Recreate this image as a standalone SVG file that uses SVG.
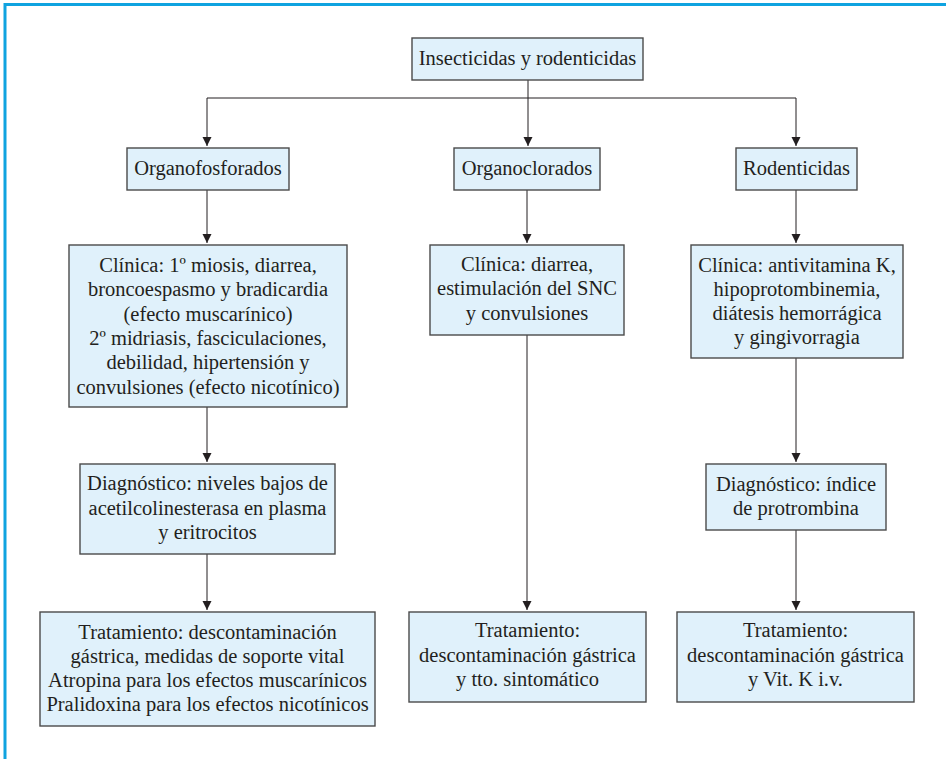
<svg xmlns="http://www.w3.org/2000/svg" width="946" height="759" viewBox="0 0 946 759">
<style>
.box{fill:#e0f1fb;stroke:#4a4a4a;stroke-width:1.4}
.t{font-family:"Liberation Serif","Times New Roman",serif;font-size:20.5px;fill:#231f20;text-anchor:middle}
.c{stroke:#231f20;stroke-width:1;fill:none}
.frame{stroke:#0fa3e0;stroke-width:3;fill:none}
</style>
<defs>
<marker id="ah" viewBox="0 0 10 10" refX="10" refY="5" markerWidth="9" markerHeight="10" markerUnits="userSpaceOnUse" orient="auto">
<path d="M0,0 L10,5 L0,10 Z" fill="#231f20"/>
</marker>
</defs>
<rect width="946" height="759" fill="#ffffff"/>
<path class="frame" d="M5,759 V4.5 H946"/>

<g id="connectors">
<line class="c" x1="528" y1="80" x2="528" y2="98"/>
<line class="c" x1="207" y1="98" x2="796" y2="98"/>
<line class="c" x1="207" y1="98" x2="207" y2="146" marker-end="url(#ah)"/>
<line class="c" x1="528" y1="98" x2="528" y2="146" marker-end="url(#ah)"/>
<line class="c" x1="796" y1="98" x2="796" y2="146" marker-end="url(#ah)"/>
<line class="c" x1="207" y1="190" x2="207" y2="243" marker-end="url(#ah)"/>
<line class="c" x1="527" y1="190" x2="527" y2="243" marker-end="url(#ah)"/>
<line class="c" x1="796" y1="190" x2="796" y2="243" marker-end="url(#ah)"/>
<line class="c" x1="207" y1="407" x2="207" y2="462" marker-end="url(#ah)"/>
<line class="c" x1="796" y1="358" x2="796" y2="462" marker-end="url(#ah)"/>
<line class="c" x1="207" y1="554" x2="207" y2="610" marker-end="url(#ah)"/>
<line class="c" x1="527" y1="335" x2="527" y2="610" marker-end="url(#ah)"/>
<line class="c" x1="796" y1="530" x2="796" y2="610" marker-end="url(#ah)"/>
</g>

<g id="root">
<rect class="box" x="412" y="38" width="231" height="42"/>
<text class="t" x="527.5" y="65">Insecticidas y rodenticidas</text>
</g>

<g id="organofosforados">
<rect class="box" x="127" y="148" width="162" height="42"/>
<text class="t" x="208" y="175">Organofosforados</text>
</g>
<g id="organoclorados">
<rect class="box" x="454" y="148" width="146" height="42"/>
<text class="t" x="527" y="175">Organoclorados</text>
</g>
<g id="rodenticidas">
<rect class="box" x="736" y="148" width="121" height="42"/>
<text class="t" x="796.5" y="175">Rodenticidas</text>
</g>

<g id="clinica-of">
<rect class="box" x="69" y="245" width="278" height="162"/>
<text class="t" x="208" y="272">Clínica: 1º miosis, diarrea,</text>
<text class="t" x="208" y="296">broncoespasmo y bradicardia</text>
<text class="t" x="208" y="320.5">(efecto muscarínico)</text>
<text class="t" x="208" y="345">2º midriasis, fasciculaciones,</text>
<text class="t" x="208" y="369">debilidad, hipertensión y</text>
<text class="t" x="208" y="393.5">convulsiones (efecto nicotínico)</text>
</g>
<g id="clinica-oc">
<rect class="box" x="430" y="245" width="194" height="90"/>
<text class="t" x="527" y="271">Clínica: diarrea,</text>
<text class="t" x="527" y="295">estimulación del SNC</text>
<text class="t" x="527" y="319.5">y convulsiones</text>
</g>
<g id="clinica-rod">
<rect class="box" x="691" y="245" width="212" height="113"/>
<text class="t" x="797" y="271.5">Clínica: antivitamina K,</text>
<text class="t" x="797" y="296">hipoprotombinemia,</text>
<text class="t" x="797" y="320">diátesis hemorrágica</text>
<text class="t" x="797" y="343.5">y gingivorragia</text>
</g>

<g id="diag-of">
<rect class="box" x="80" y="464" width="255" height="90"/>
<text class="t" x="207.5" y="490">Diagnóstico: niveles bajos de</text>
<text class="t" x="207.5" y="515">acetilcolinesterasa en plasma</text>
<text class="t" x="207.5" y="539">y eritrocitos</text>
</g>
<g id="diag-rod">
<rect class="box" x="706" y="464" width="180" height="66"/>
<text class="t" x="796" y="490.5">Diagnóstico: índice</text>
<text class="t" x="796" y="515">de protrombina</text>
</g>

<g id="trat-of">
<rect class="box" x="40" y="612" width="335" height="114"/>
<text class="t" x="207.5" y="638.5">Tratamiento: descontaminación</text>
<text class="t" x="207.5" y="662.5">gástrica, medidas de soporte vital</text>
<text class="t" x="207.5" y="686.5">Atropina para los efectos muscarínicos</text>
<text class="t" x="207.5" y="710.5">Pralidoxina para los efectos nicotínicos</text>
</g>
<g id="trat-oc">
<rect class="box" x="409" y="612" width="237" height="90"/>
<text class="t" x="527.5" y="637">Tratamiento:</text>
<text class="t" x="527.5" y="661.5">descontaminación gástrica</text>
<text class="t" x="527.5" y="685.5">y tto. sintomático</text>
</g>
<g id="trat-rod">
<rect class="box" x="677" y="612" width="237" height="90"/>
<text class="t" x="795.5" y="637">Tratamiento:</text>
<text class="t" x="795.5" y="661.5">descontaminación gástrica</text>
<text class="t" x="795.5" y="685.5">y Vit. K i.v.</text>
</g>
</svg>
